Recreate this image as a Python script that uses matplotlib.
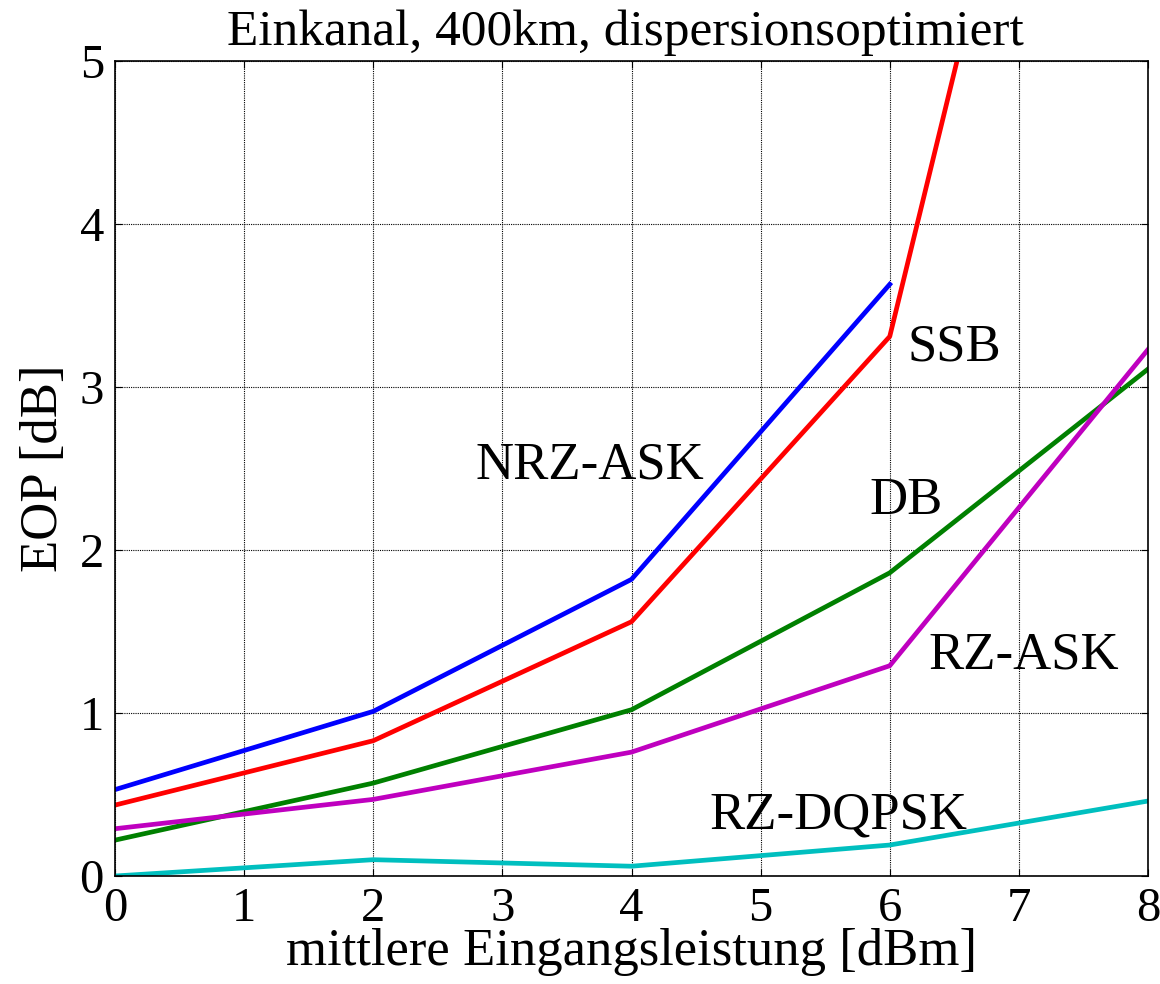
import matplotlib
matplotlib.use("Agg")
import matplotlib.pyplot as plt

plt.rcParams['font.family'] = ['Liberation Serif', 'DejaVu Serif']

x = [0, 2, 4, 6, 8]
x_nrz = [0, 2, 4, 6]
nrz_ask = [0.53, 1.01, 1.82, 3.63]
ssb = [0.435, 0.83, 1.56, 3.31, 9.8]
db = [0.22, 0.57, 1.02, 1.86, 3.11]
rz_ask = [0.29, 0.47, 0.76, 1.29, 3.23]
rz_dqpsk = [0.0, 0.10, 0.06, 0.19, 0.46]

labels = ["NRZ-ASK", "SSB", "DB", "RZ-ASK", "RZ-DQPSK"]
label_pos = [(3.68, 2.52), (6.5, 3.24), (6.13, 2.30), (7.04, 1.35), (5.6, 0.37)]

fig = plt.figure(figsize=(11.6, 9.84), dpi=100)
ax = fig.add_axes([115/1160, 1 - 876/984, (1148-115)/1160, (876-61)/984])

lw = 3.4
ax.plot(x_nrz, nrz_ask, color=(0, 0, 1), lw=lw)
ax.plot(x, ssb, color=(1, 0, 0), lw=lw)
ax.plot(x, db, color=(0, 0.5, 0), lw=lw)
ax.plot(x, rz_ask, color=(0.75, 0, 0.75), lw=lw)
ax.plot(x, rz_dqpsk, color=(0, 0.75, 0.75), lw=lw)

ax.set_xlim(0, 8)
ax.set_ylim(0, 5)
ax.set_xticks(range(0, 9))
ax.set_yticks(range(0, 6))
ax.grid(True, color='black', linestyle=(0, (1, 1)), linewidth=0.8)
ax.tick_params(direction='in', top=True, right=True, length=5, labelsize=35, pad=8)
for s in ax.spines.values():
    s.set_linewidth(1.2)

for lab, (lx, ly) in zip(labels, label_pos):
    ax.text(lx, ly, lab, fontsize=38, ha='center', va='center')

fig.text(625/1160, 1 - 45/984, "Einkanal, 400km, dispersionsoptimiert",
         fontsize=37, ha='center', va='baseline')
ax.set_xlabel("mittlere Eingangsleistung [dBm]", fontsize=38, labelpad=-2)
ax.set_ylabel("EOP [dB]", fontsize=38, labelpad=8)

fig.savefig("out.png", dpi=100)
